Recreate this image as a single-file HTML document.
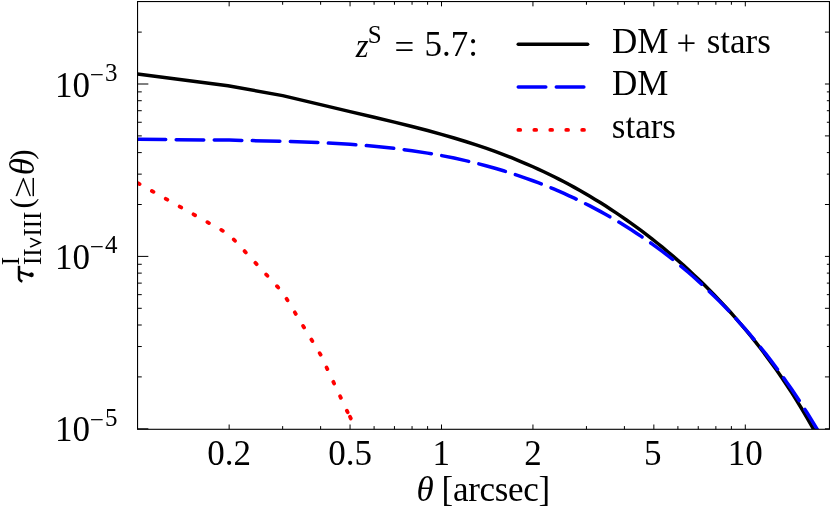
<!DOCTYPE html>
<html><head><meta charset="utf-8"><title>plot</title>
<style>html,body{margin:0;padding:0;background:#fff;}svg{display:block;}text{font-family:"Liberation Serif",serif;fill:#000;}</style>
</head><body>
<svg width="830" height="513" viewBox="0 0 830 513" style="will-change:transform">
<rect x="0" y="0" width="830" height="513" fill="#fff"/>
<clipPath id="c"><rect x="137.55" y="1.55" width="691.9000000000001" height="427.75"/></clipPath>
<g clip-path="url(#c)" fill="none" stroke-linejoin="round">
<path d="M137.50,74.10 L228.00,85.80 L282.65,95.60 L320.61,104.61 L350.05,111.59 L374.10,117.27 L394.44,122.14 L412.06,126.51 L427.60,130.54 L441.50,134.34 L454.08,137.96 L465.56,141.46 L476.12,144.86 L485.89,148.17 L495.00,151.41 L503.51,154.58 L511.51,157.70 L519.05,160.77 L526.19,163.79 L532.95,166.76 L538.13,169.10 L543.30,171.51 L548.48,173.98 L553.65,176.52 L558.83,179.13 L564.00,181.81 L569.18,184.56 L574.35,187.38 L579.53,190.27 L584.70,193.24 L589.87,196.27 L595.05,199.39 L600.22,202.58 L605.40,205.85 L610.57,209.19 L615.75,212.62 L620.92,216.12 L626.10,219.71 L631.27,223.37 L636.45,227.13 L641.62,230.96 L646.80,234.89 L651.97,238.90 L657.15,243.00 L662.32,247.19 L667.50,251.48 L672.67,255.86 L677.85,260.35 L683.02,264.93 L688.19,269.62 L693.37,274.41 L698.54,279.32 L703.72,284.34 L708.89,289.47 L714.07,294.73 L719.24,300.12 L724.42,305.64 L729.59,311.30 L734.77,317.11 L739.94,323.06 L745.12,329.17 L750.29,335.44 L755.47,341.89 L760.64,348.52 L765.82,355.34 L770.99,362.36 L776.17,369.58 L781.34,377.03 L786.51,384.71 L791.69,392.63 L796.86,400.81 L802.04,409.27 L807.21,418.00 L812.39,427.04 L817.56,436.40 L822.74,446.09 L827.91,456.13 L833.09,466.55" stroke="#000" stroke-width="3.5"/>
<path d="M137.70,139.35 L229.15,140.11 L282.65,141.24 L320.61,142.61 L350.05,144.29 L374.10,146.25 L394.44,148.40 L412.06,150.71 L427.60,153.11 L441.50,155.57 L454.08,158.08 L465.56,160.62 L476.12,163.17 L485.89,165.72 L495.00,168.26 L503.51,170.79 L511.51,173.31 L519.05,175.81 L526.19,178.29 L532.95,180.76 L538.13,182.71 L543.30,184.73 L548.48,186.81 L553.65,188.95 L558.83,191.17 L564.00,193.45 L569.18,195.80 L574.35,198.21 L579.53,200.70 L584.70,203.27 L589.87,205.90 L595.05,208.61 L600.22,211.40 L605.40,214.27 L610.57,217.22 L615.75,220.24 L620.92,223.35 L626.10,226.55 L631.27,229.83 L636.45,233.20 L641.62,236.66 L646.80,240.22 L651.97,243.87 L657.15,247.61 L662.32,251.46 L667.50,255.40 L672.67,259.46 L677.85,263.62 L683.02,267.89 L688.19,272.27 L693.37,276.77 L698.54,281.38 L703.72,286.13 L708.89,290.99 L714.07,295.99 L719.24,301.12 L724.42,306.38 L729.59,311.79 L734.77,317.34 L739.94,323.05 L745.12,328.90 L750.29,334.92 L755.47,341.10 L760.64,347.44 L765.82,353.96 L770.99,360.66 L776.17,367.55 L781.34,374.62 L786.51,381.89 L791.69,389.36 L796.86,397.04 L802.04,404.94 L807.21,413.05 L812.39,421.40 L817.56,429.98 L822.74,438.80 L827.91,447.87 L833.09,457.20 L838.26,466.79" stroke="#0000ff" stroke-width="3.5" stroke-dasharray="27.55 10.5" stroke-dashoffset="-0.45" stroke-linecap="round"/>
<path d="M138.02,183.19 L139.59,184.08 M151.89,190.99 L153.46,191.87 M165.77,198.78 L167.33,199.66 M179.64,206.57 L181.21,207.45 M193.51,214.36 L195.08,215.24 M207.38,222.15 L208.95,223.04 M221.25,229.95 L222.82,230.83 M233.77,239.45 L234.99,240.77 M244.58,251.13 L245.80,252.45 M255.38,262.80 L256.61,264.13 M266.19,274.48 L267.41,275.80 M277.00,286.16 L278.22,287.48 M286.56,298.77 L287.50,300.31 M294.84,312.36 L295.77,313.90 M303.11,325.95 L304.05,327.49 M311.39,339.54 L312.32,341.08 M319.66,353.13 L320.60,354.66 M326.58,367.44 L327.35,369.07 M333.35,381.85 L334.11,383.47 M340.11,396.25 L340.87,397.87 M346.87,410.65 L347.64,412.27 M350.02,416.78 L350.78,418.42" stroke="#ff0000" stroke-width="3.8" stroke-linecap="round"/>
</g>
<g stroke="#000" fill="none">
<rect x="137.55" y="1.55" width="691.90" height="427.75" stroke-width="1.1"/>
<path d="M229.15,429.3 v-4.8 M229.15,1.55 v4.8 M350.05,429.3 v-4.8 M350.05,1.55 v4.8 M441.50,429.3 v-4.8 M441.50,1.55 v4.8 M532.95,429.3 v-4.8 M532.95,1.55 v4.8 M653.85,429.3 v-4.8 M653.85,1.55 v4.8 M745.30,429.3 v-4.8 M745.30,1.55 v4.8 M282.65,429.3 v-3.2 M282.65,1.55 v3.2 M320.61,429.3 v-3.2 M320.61,1.55 v3.2 M374.10,429.3 v-3.2 M374.10,1.55 v3.2 M394.44,429.3 v-3.2 M394.44,1.55 v3.2 M412.06,429.3 v-3.2 M412.06,1.55 v3.2 M427.60,429.3 v-3.2 M427.60,1.55 v3.2 M586.45,429.3 v-3.2 M586.45,1.55 v3.2 M624.41,429.3 v-3.2 M624.41,1.55 v3.2 M677.90,429.3 v-3.2 M677.90,1.55 v3.2 M698.24,429.3 v-3.2 M698.24,1.55 v3.2 M715.86,429.3 v-3.2 M715.86,1.55 v3.2 M731.40,429.3 v-3.2 M731.40,1.55 v3.2 M137.55,84.00 h10.8 M829.45,84.00 h-4.5 M137.55,256.40 h10.8 M829.45,256.40 h-4.5 M137.55,428.80 h10.8 M829.45,428.80 h-4.5 M137.55,32.10 h4.2 M829.45,32.10 h-4.5 M137.55,204.50 h4.2 M829.45,204.50 h-4.5 M137.55,174.14 h4.2 M829.45,174.14 h-2.6 M137.55,152.60 h4.2 M829.45,152.60 h-2.6 M137.55,135.90 h4.2 M829.45,135.90 h-4.5 M137.55,122.25 h4.2 M829.45,122.25 h-2.6 M137.55,110.71 h4.2 M829.45,110.71 h-2.6 M137.55,100.71 h4.2 M829.45,100.71 h-2.6 M137.55,91.89 h4.2 M829.45,91.89 h-2.6 M137.55,376.90 h4.2 M829.45,376.90 h-4.5 M137.55,346.54 h4.2 M829.45,346.54 h-2.6 M137.55,325.00 h4.2 M829.45,325.00 h-2.6 M137.55,308.30 h4.2 M829.45,308.30 h-4.5 M137.55,294.65 h4.2 M829.45,294.65 h-2.6 M137.55,283.11 h4.2 M829.45,283.11 h-2.6 M137.55,273.11 h4.2 M829.45,273.11 h-2.6 M137.55,264.29 h4.2 M829.45,264.29 h-2.6" stroke-width="1.0"/>
</g>
<path d="M518.25,44.3 H587.65" stroke="#000" stroke-width="3.5" stroke-linecap="round" fill="none"/>
<path d="M518.25,87 H584.25" stroke="#0000ff" stroke-width="3.5" stroke-dasharray="27.55 10.5" stroke-linecap="round" fill="none"/>
<path d="M518.4,129.9 H590" stroke="#ff0000" stroke-width="3.8" stroke-dasharray="1.8 14.15" stroke-linecap="round" fill="none"/>
<g style="filter:grayscale(1)">
<text x="54.9" y="96.50" font-size="35" text-anchor="start" >10</text>
<text x="89.7" y="82.80" font-size="25" text-anchor="start" >−</text>
<text x="105.0" y="81.00" font-size="25" text-anchor="start" >3</text>
<text x="54.9" y="268.90" font-size="35" text-anchor="start" >10</text>
<text x="89.7" y="255.20" font-size="25" text-anchor="start" >−</text>
<text x="105.0" y="253.40" font-size="25" text-anchor="start" >4</text>
<text x="54.9" y="441.30" font-size="35" text-anchor="start" >10</text>
<text x="89.7" y="427.60" font-size="25" text-anchor="start" >−</text>
<text x="105.0" y="425.80" font-size="25" text-anchor="start" >5</text>
<text x="229.15" y="464.7" font-size="35" text-anchor="middle" >0.2</text>
<text x="350.05" y="464.7" font-size="35" text-anchor="middle" >0.5</text>
<text x="441.20" y="464.7" font-size="35" text-anchor="middle" >1</text>
<text x="532.95" y="464.7" font-size="35" text-anchor="middle" >2</text>
<text x="652.85" y="464.7" font-size="35" text-anchor="middle" >5</text>
<text x="745.30" y="464.7" font-size="35" text-anchor="middle" >10</text>
<text x="416.6" y="501.3" font-size="35" text-anchor="start" font-style="italic">θ</text>
<text x="441.6" y="501.3" font-size="35" text-anchor="start" letter-spacing="-0.3">[arcsec]</text>
<text x="355.8" y="57.0" font-size="33" text-anchor="start" font-style="italic">z</text>
<text x="367.8" y="42.6" font-size="25" text-anchor="start" >S</text>
<text x="394.6" y="59.0" font-size="35" text-anchor="start" >=</text>
<text x="424.6" y="56.2" font-size="35" text-anchor="start" >5.7:</text>
<text x="611.9" y="52.8" font-size="35" text-anchor="start" >DM</text>
<text x="676.5" y="55.2" font-size="35" text-anchor="start" >+</text>
<text x="706.7" y="52.8" font-size="35" text-anchor="start" >stars</text>
<text x="611.9" y="95.4" font-size="35" text-anchor="start" >DM</text>
<text x="611.8" y="137.8" font-size="35" text-anchor="start" >stars</text>
<g transform="translate(34,283) rotate(-90)">
<path d="M1.5,-11.7 Q2.4,-14.9 5.4,-15.0 L17.2,-15.0" stroke="#000" stroke-width="2.6" fill="none"/>
<path d="M11.0,-14.6 L7.7,-4.0" stroke="#000" stroke-width="2.4" fill="none"/>
<circle cx="8.2" cy="-2.6" r="2.4" fill="#000"/>
<text x="17.7" y="-15.2" font-size="25" text-anchor="start" >I</text>
<text x="18.0" y="6.9" font-size="25" text-anchor="start" >I</text>
<text x="26.2" y="6.9" font-size="25" text-anchor="start" >I</text>
<text x="46.5" y="6.9" font-size="25" text-anchor="start" >I</text>
<text x="54.8" y="6.9" font-size="25" text-anchor="start" >I</text>
<text x="63.0" y="6.9" font-size="25" text-anchor="start" >I</text>
<path d="M35.9,-3.9 L40.35,6.1 L44.8,-3.9" stroke="#000" stroke-width="1.5" fill="none" stroke-linejoin="miter"/>
<text x="74.6" y="-2.4" font-size="31" text-anchor="start" >(</text>
<g transform="translate(85.4,-0.4) scale(1.12,0.92)">
<text x="0" y="0" font-size="35" text-anchor="start" >≥</text>
</g>
<text x="107.8" y="0" font-size="35" text-anchor="start" font-style="italic">θ</text>
<text x="123.3" y="-2.4" font-size="31" text-anchor="start" >)</text>
</g>
</g>
</svg></body></html>
